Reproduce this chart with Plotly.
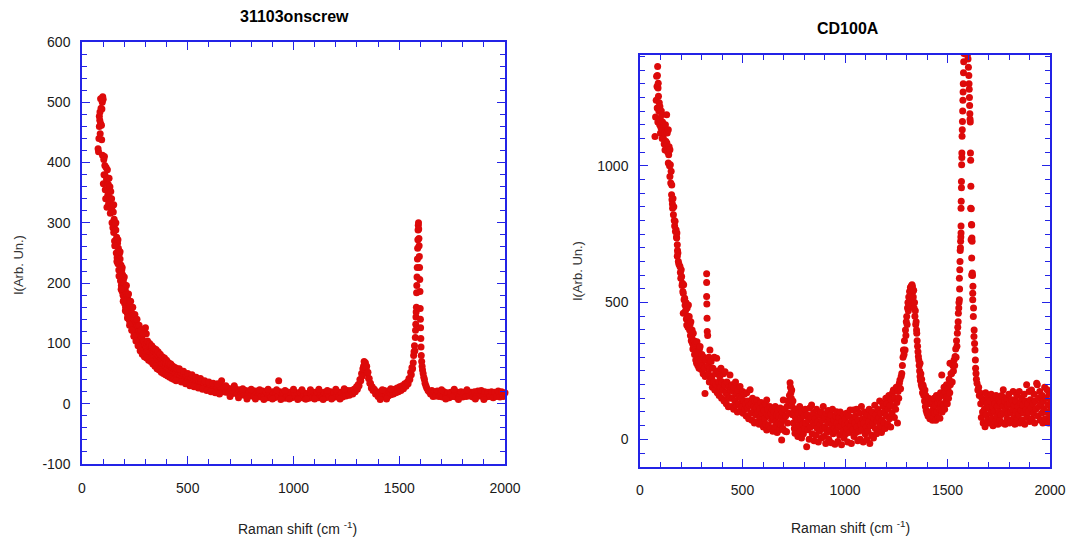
import plotly.graph_objects as go

# ---------------- Left panel: 31103onscrew ----------------
shift_a = [
    76, 78, 80, 82, 82, 84, 85, 86, 88, 88,
    90, 92, 93, 94, 96, 98, 100, 97, 101, 103,
    104, 106, 108, 109, 110, 112, 114, 116, 118, 120,
    122, 124, 126, 128, 130, 132, 134, 136, 138, 140,
    142, 144, 146, 148, 150, 152, 154, 156, 158, 160,
    162, 164, 166, 168, 170, 172, 174, 176, 178, 180,
    182, 184, 186, 188, 190, 192, 194, 196, 198, 200,
    202, 204, 206, 208, 210, 212, 214, 216, 218, 220,
    222, 224, 226, 228, 230, 232, 234, 236, 238, 240,
    242, 244, 246, 248, 250, 252, 254, 256, 258, 260,
    262, 264, 266, 268, 270, 272, 274, 276, 278, 280,
    282, 284, 286, 288, 290, 292, 294, 296, 298, 300,
    302, 304, 306, 308, 312, 316, 320, 324, 328, 332,
    336, 340, 344, 348, 352, 356, 360, 364, 368, 372,
    376, 380, 384, 388, 392, 396, 400, 405, 410, 415,
    420, 425, 430, 435, 440, 445, 450, 456, 462, 468,
    474, 480, 486, 492, 498, 504, 510, 516, 522, 528,
    534, 540, 546, 552, 558, 564, 570, 576, 582, 590,
    598, 606, 614, 622, 630, 638, 646, 654, 660, 664,
    672, 680, 688, 696, 704, 712, 720, 726, 734, 742,
    750, 758, 766, 774, 782, 790, 798, 806, 814, 822,
    830, 838, 846, 854, 862, 870, 878, 886, 894, 902,
    910, 918, 926, 930, 936, 944, 952, 960, 968, 976,
    984, 992, 1000, 1008, 1016, 1024, 1032, 1040, 1048, 1056,
    1064, 1072, 1080, 1088, 1096, 1104, 1112, 1120, 1128, 1136,
    1144, 1152, 1160, 1168, 1176, 1184, 1192, 1200, 1208, 1216,
    1224, 1232, 1240, 1248, 1256, 1264, 1272, 1280, 1286, 1292,
    1298, 1302, 1306, 1310, 1314, 1318, 1322, 1325, 1328, 1331,
    1334, 1337, 1340, 1343, 1346, 1349, 1352, 1355, 1358, 1361,
    1364, 1368, 1372, 1376, 1382, 1388, 1394, 1400, 1406, 1412,
    1418, 1424, 1430, 1436, 1442, 1448, 1454, 1460, 1466, 1472,
    1478, 1484, 1490, 1496, 1502, 1508, 1514, 1520, 1526, 1532,
    1538, 1542, 1546, 1550, 1554, 1557, 1560, 1563, 1566, 1568,
    1570, 1572, 1574, 1576, 1577, 1578, 1579, 1580, 1581, 1582,
    1583, 1584, 1585, 1586, 1587, 1588, 1589, 1590, 1591, 1592,
    1593, 1594, 1595, 1596, 1597, 1598, 1599, 1600, 1601, 1602,
    1603, 1604, 1606, 1608, 1610, 1613, 1616, 1619, 1622, 1626,
    1630, 1636, 1642, 1648, 1654, 1660, 1666, 1672, 1680, 1688,
    1696, 1704, 1712, 1720, 1728, 1736, 1744, 1752, 1760, 1768,
    1776, 1784, 1792, 1800, 1808, 1816, 1824, 1832, 1840, 1848,
    1856, 1864, 1872, 1880, 1888, 1896, 1904, 1912, 1920, 1928,
    1936, 1944, 1952, 1960, 1968, 1976, 1984, 1992, 2000, 2006,
    # scattered points at the band edges
    150, 160, 170, 180, 190, 200, 210, 220, 230, 240,
    155, 165, 175, 185, 195, 205, 215, 225, 235, 245,
    250, 260, 270, 280, 290, 310, 320, 330, 340, 350,
    255, 265, 275, 285, 295, 305, 315, 325, 335, 345,
    360, 370, 380, 390, 400, 410, 420, 430, 440, 450,
    355, 365, 375, 385, 395, 405, 415, 425, 435, 445,
    460, 480, 500, 520, 540, 560, 580, 600, 620, 640,
    470, 490, 510, 530, 550, 570, 590, 610, 630, 650,
    680, 720, 760, 800, 840, 880, 920, 960, 1000, 1040,
    700, 740, 780, 820, 860, 900, 940, 980, 1020, 1060,
    1080, 1120, 1160, 1200, 1240, 1420, 1460, 1700, 1760, 1820,
    1100, 1140, 1180, 1220, 1410, 1440, 1720, 1780, 1860, 1900,
]
inten_a = [
    423, 418, 440, 460, 477, 470, 484, 448, 506, 465,
    490, 462, 438, 489, 500, 509, 505, 412, 365, 405,
    380, 410, 395, 379, 355, 340, 392, 372, 326, 388,
    346, 364, 332, 374, 342, 360, 316, 352, 324, 340,
    300, 328, 292, 318, 284, 306, 270, 298, 262, 288,
    250, 276, 242, 266, 232, 258, 222, 248, 212, 240,
    204, 230, 196, 222, 186, 214, 180, 206, 172, 198,
    166, 190, 160, 184, 154, 178, 150, 174, 144, 170,
    140, 164, 136, 160, 132, 156, 130, 150, 126, 146,
    122, 142, 118, 138, 116, 134, 112, 130, 108, 128,
    106, 124, 102, 120, 100, 116, 98, 114, 94, 110,
    92, 108, 90, 104, 88, 102, 86, 124, 98, 126,
    92, 116, 86, 100, 84, 98, 80, 94, 78, 92,
    76, 88, 72, 86, 70, 82, 68, 80, 64, 76,
    62, 74, 60, 72, 58, 68, 56, 66, 54, 64,
    52, 60, 50, 58, 48, 56, 46, 54, 44, 52,
    42, 50, 40, 48, 38, 46, 36, 44, 34, 42,
    32, 40, 30, 38, 29, 36, 28, 34, 26, 33,
    25, 31, 23, 30, 22, 29, 21, 28, 38, 20,
    27, 19, 26, 18, 25, 17, 30, 24, 16, 23,
    15, 22, 14, 22, 13, 21, 13, 22, 12, 21,
    12, 20, 11, 21, 12, 20, 10, 19, 11, 20,
    10, 19, 12, 38, 20, 10, 19, 9, 20, 11,
    19, 10, 21, 11, 18, 9, 19, 10, 18, 8,
    17, 9, 18, 10, 19, 11, 20, 10, 18, 11,
    19, 10, 18, 11, 20, 10, 18, 11, 20, 12,
    19, 11, 21, 13, 22, 14, 22, 16, 24, 20,
    28, 24, 32, 30, 40, 38, 50, 46, 58, 62,
    70, 66, 68, 60, 62, 50, 52, 42, 42, 34,
    34, 26, 28, 22, 24, 16, 20, 12, 18, 10,
    16, 12, 22, 14, 20, 13, 22, 15, 23, 16,
    24, 18, 26, 20, 28, 22, 30, 25, 33, 29,
    36, 33, 42, 40, 52, 48, 60, 58, 68, 80,
    86, 96, 88, 110, 122, 132, 144, 152, 160, 184,
    196, 210, 226, 240, 258, 272, 288, 296, 300, 290,
    274, 262, 244, 226, 206, 186, 158, 140, 126, 108,
    94, 80, 70, 62, 56, 50, 44, 40, 34, 30,
    26, 22, 20, 16, 22, 12, 20, 13, 21, 12,
    19, 11, 20, 12, 18, 10, 19, 12, 22, 11,
    19, 12, 20, 11, 19, 12, 20, 13, 19, 11,
    20, 12, 21, 13, 22, 12, 20, 11, 19, 12,
    20, 10, 19, 12, 21, 11, 20, 12, 18, 13,
    # scattered points at the band edges
    330, 300, 272, 252, 226, 210, 196, 182, 170, 160,
    262, 236, 212, 190, 170, 154, 142, 130, 122, 112,
    148, 140, 130, 122, 116, 104, 100, 96, 92, 90,
    104, 96, 88, 82, 78, 76, 72, 70, 66, 62,
    86, 82, 78, 76, 72, 68, 66, 62, 60, 58,
    58, 56, 52, 50, 48, 46, 44, 42, 40, 38,
    58, 54, 50, 48, 44, 42, 38, 36, 34, 33,
    36, 33, 30, 28, 26, 24, 22, 20, 18, 16,
    30, 27, 25, 24, 23, 24, 23, 22, 24, 23,
    12, 10, 8, 8, 7, 8, 7, 8, 7, 8,
    23, 24, 22, 24, 25, 23, 25, 23, 24, 23,
    8, 7, 8, 8, 7, 8, 8, 7, 8, 7,
]

# ---------------- Right panel: CD100A ----------------
shift_b = [
    73, 76, 79, 81, 83, 84, 85, 86, 87, 88,
    89, 90, 92, 94, 96, 97, 99, 100, 102, 104,
    106, 108, 110, 112, 114, 116, 118, 120, 122, 124,
    126, 128, 130, 131, 133, 135, 138, 138, 140, 142,
    144, 146, 146, 148, 150, 152, 154, 155, 156, 158,
    159, 161, 163, 165, 167, 169, 171, 173, 176, 178,
    179, 180, 182, 183, 185, 182, 187, 190, 195, 197,
    199, 201, 203, 205, 207, 209, 211, 213, 215, 218,
    211, 220, 222, 224, 226, 228, 230, 232, 234, 236,
    238, 240, 242, 244, 246, 248, 250, 252, 254, 256,
    258, 260, 262, 264, 266, 268, 270, 272, 274, 276,
    278, 280, 282, 284, 286, 288, 290, 293, 296, 299,
    302, 305, 308, 311, 314, 317, 318, 320, 325, 325,
    325, 326, 327, 328, 330, 332, 334, 336, 338, 341,
    341, 344, 347, 350, 353, 356, 359, 362, 365, 368,
    371, 374, 377, 380, 383, 386, 389, 392, 395, 398,
    401, 404, 407, 410, 413, 415, 418, 421, 424, 427,
    431, 434, 437, 439, 442, 445, 448, 451, 454, 457,
    460, 463, 466, 469, 472, 475, 478, 481, 484, 488,
    491, 494, 497, 500, 503, 506, 509, 512, 515, 518,
    521, 524, 527, 530, 533, 537, 540, 543, 546, 549,
    552, 555, 558, 561, 564, 567, 569, 572, 575, 578,
    581, 584, 587, 590, 593, 596, 599, 602, 605, 608,
    611, 614, 618, 618, 621, 624, 627, 630, 633, 636,
    639, 642, 645, 648, 651, 654, 657, 660, 663, 666,
    669, 672, 675, 678, 681, 684, 687, 691, 691, 694,
    697, 699, 702, 705, 708, 711, 715, 717, 720, 723,
    726, 729, 732, 734, 736, 738, 740, 742, 744, 746,
    748, 750, 753, 756, 758, 761, 764, 767, 770, 773,
    776, 779, 782, 785, 788, 791, 794, 797, 800, 803,
    806, 809, 813, 816, 819, 822, 825, 828, 831, 834,
    837, 840, 843, 846, 849, 852, 855, 858, 861, 864,
    867, 870, 873, 876, 879, 882, 885, 888, 891, 894,
    897, 900, 903, 906, 909, 912, 915, 918, 921, 924,
    927, 930, 933, 936, 939, 942, 945, 948, 951, 954,
    957, 959, 962, 965, 968, 971, 974, 977, 980, 983,
    986, 989, 992, 995, 998, 1001, 1004, 1007, 1010, 1013,
    1016, 1019, 1022, 1025, 1028, 1031, 1034, 1037, 1041, 1044,
    1047, 1050, 1053, 1056, 1059, 1062, 1065, 1068, 1071, 1074,
    1077, 1080, 1083, 1086, 1089, 1092, 1095, 1098, 1101, 1104,
    1106, 1109, 1112, 1115, 1118, 1121, 1124, 1127, 1130, 1133,
    1136, 1139, 1142, 1145, 1148, 1151, 1154, 1157, 1160, 1163,
    1166, 1169, 1172, 1175, 1178, 1181, 1184, 1187, 1190, 1193,
    1196, 1199, 1202, 1205, 1208, 1211, 1214, 1217, 1220, 1223,
    1226, 1229, 1232, 1236, 1238, 1241, 1244, 1247, 1250, 1253,
    1256, 1259, 1262, 1265, 1268, 1271, 1274, 1277, 1280, 1283,
    1285, 1288, 1290, 1293, 1295, 1297, 1299, 1301, 1303, 1305,
    1307, 1309, 1311, 1313, 1315, 1317, 1319, 1321, 1323, 1325,
    1327, 1329, 1331, 1333, 1335, 1337, 1339, 1341, 1343, 1345,
    1347, 1349, 1350, 1352, 1354, 1356, 1358, 1360, 1362, 1364,
    1366, 1366, 1368, 1370, 1372, 1374, 1376, 1378, 1380, 1382,
    1384, 1386, 1388, 1390, 1392, 1394, 1396, 1398, 1400, 1402,
    1405, 1408, 1411, 1414, 1415, 1418, 1421, 1424, 1427, 1430,
    1431, 1434, 1437, 1440, 1443, 1446, 1449, 1452, 1455, 1458,
    1461, 1463, 1466, 1468, 1472, 1474, 1477, 1480, 1483, 1486,
    1489, 1492, 1495, 1496, 1499, 1502, 1505, 1508, 1511, 1512,
    1514, 1517, 1520, 1523, 1526, 1529, 1532, 1535, 1537, 1540,
    1542, 1544, 1546, 1548, 1550, 1552, 1553, 1555, 1556, 1558,
    1558, 1559, 1560, 1561, 1562, 1563, 1564, 1565, 1566, 1566,
    1566, 1567, 1568, 1568, 1569, 1570, 1570, 1571, 1572, 1573,
    1574, 1575, 1576, 1577, 1578, 1579, 1580, 1583, 1586, 1590,
    1594, 1597, 1600, 1602, 1604, 1605, 1606, 1607, 1608, 1609,
    1610, 1611, 1612, 1613, 1613, 1614, 1615, 1616, 1617, 1618,
    1618, 1618, 1619, 1620, 1621, 1622, 1623, 1623, 1624, 1626,
    1627, 1629, 1630, 1632, 1634, 1636, 1637, 1639, 1641, 1644,
    1648, 1652, 1655, 1659, 1662, 1665, 1668, 1671, 1674, 1677,
    1680, 1683, 1686, 1689, 1692, 1695, 1698, 1701, 1704, 1707,
    1710, 1713, 1716, 1719, 1722, 1725, 1728, 1731, 1734, 1737,
    1740, 1743, 1746, 1749, 1752, 1755, 1758, 1761, 1764, 1767,
    1770, 1772, 1775, 1778, 1781, 1784, 1787, 1790, 1793, 1796,
    1799, 1802, 1805, 1808, 1811, 1814, 1817, 1820, 1823, 1826,
    1829, 1832, 1835, 1838, 1841, 1844, 1847, 1850, 1853, 1856,
    1859, 1862, 1865, 1868, 1871, 1874, 1877, 1880, 1883, 1886,
    1889, 1892, 1895, 1898, 1901, 1904, 1907, 1910, 1913, 1916,
    1919, 1922, 1925, 1928, 1931, 1935, 1938, 1941, 1944, 1947,
    1950, 1953, 1956, 1959, 1962, 1965, 1968, 1971, 1974, 1977,
    1980, 1983, 1986, 1989, 1992, 1995, 1998, 2000, 2003, 2006,
]
inten_b = [
    1107, 1178, 1240, 1327, 1290, 1211, 1330, 1363, 1160, 1284,
    1302, 1254, 1200, 1230, 1150, 1217, 1170, 1120, 1140, 1200,
    1187, 1100, 1160, 1130, 1101, 1150, 1080, 1120, 1058, 1150,
    1090, 1070, 1187, 1083, 1120, 1050, 1132, 1010, 1040, 1070,
    1000, 1059, 961, 1004, 937, 980, 894, 930, 876, 860,
    845, 880, 821, 850, 800, 780, 797, 760, 766, 740,
    736, 754, 711, 690, 681, 669, 650, 640, 632, 610,
    589, 620, 595, 562, 571, 540, 534, 565, 510, 516,
    461, 490, 470, 500, 440, 418, 480, 450, 410, 491,
    430, 449, 400, 420, 380, 430, 360, 376, 400, 350,
    330, 388, 340, 360, 310, 327, 350, 290, 320, 278,
    357, 300, 270, 320, 290, 260, 330, 339, 285, 255,
    310, 270, 240, 300, 260, 168, 230, 290, 605, 573,
    522, 495, 443, 394, 380, 270, 240, 300, 210, 327,
    260, 230, 285, 223, 190, 260, 210, 300, 180, 240,
    200, 296, 170, 250, 210, 160, 230, 190, 260, 150,
    210, 180, 240, 140, 200, 247, 170, 130, 210, 160,
    119, 190, 150, 235, 180, 120, 200, 150, 175, 110,
    190, 140, 210, 125, 165, 100, 180, 130, 155, 193,
    105, 150, 120, 175, 95, 140, 165, 110, 130, 85,
    170, 115, 140, 75, 125, 181, 95, 130, 70, 150,
    100, 120, 60, 140, 90, 115, 144, 65, 100, 125,
    55, 110, 80, 135, 60, 95, 120, 45, 105, 75,
    130, 55, 144, 34, 90, 110, 50, 85, 120, 40,
    95, 70, 110, 30, 80, 100, 45, 120, 65, 90,
    25, 105, 60, 85, 35, 115, 55, -2, 80, 100,
    40, 144, 70, 110, 30, 85, 28, 120, 60, 140,
    95, 160, 207, 190, 170, 150, 180, 120, 90, 140,
    60, 100, 40, 22, 80, 110, 45, 70, 10, 95,
    50, 120, 30, 75, 5, 100, 55, 20, 85, 40,
    110, 60, -27, 90, 35, 70, 0, 115, 45, 80,
    126, 20, 60, 95, -5, 50, 75, 15, 110, 40,
    65, -10, 90, 30, 55, 100, 5, 70, 40, 120,
    10, 80, 45, -15, 95, 25, 60, 105, 0, 75,
    35, 90, -12, 55, 110, 20, 70, 40, -18, 85,
    30, 101, 60, -8, 45, 80, 15, 100, 50, -20,
    65, 30, 90, 5, 55, 75, 20, 95, 40, -10,
    60, 85, 25, 107, 50, -15, 70, 35, 107, 10,
    60, 85, 25, 110, 45, -5, 70, 30, 95, 0,
    55, 120, 35, 75, -10, 60, 100, 20, 80, 45,
    -1, 90, 30, 65, 110, -15, 50, 85, 15, 100,
    60, 5, 75, 125, 40, 90, 20, 65, 110, 35,
    80, 140, 50, 95, 25, 70, 130, 120, 60, 100,
    40, 150, 85, 130, 55, 110, 160, 75, 125, 45,
    145, 95, 170, 180, 120, 80, 150, 110, 190, 135,
    60, 175, 150, 205, 217, 185, 230, 241, 270, 300,
    327, 310, 360, 327, 400, 380, 430, 449, 420, 480,
    500, 470, 520, 490, 540, 510, 555, 530, 560, 545,
    565, 558, 540, 520, 545, 480, 500, 450, 470, 420,
    430, 400, 388, 360, 340, 320, 303, 290, 270, 250,
    230, 278, 215, 240, 200, 220, 190, 170, 200, 193,
    160, 175, 140, 180, 120, 160, 105, 144, 95, 130,
    85, 150, 100, 75, 83, 130, 90, 140, 70, 110,
    83, 150, 95, 125, 70, 160, 100, 135, 80, 150,
    110, 77, 170, 130, 235, 100, 160, 125, 190, 110,
    170, 140, 200, 156, 130, 185, 150, 220, 170, 278,
    200, 240, 241, 210, 270, 250, 290, 270, 303, 330,
    300, 360, 340, 388, 410, 430, 461, 480, 500, 510,
    589, 550, 620, 650, 690, 700, 724, 740, 754, 780,
    845, 870, 920, 943, 1004, 1030, 1047, 1108, 1132, 1162,
    1200, 1240, 1270, 1300, 1340, 1380, 1410, 1420, 1420, 1415,
    1420, 1405, 1390, 1360, 1330, 1300, 1280, 1250, 1220, 1190,
    1170, 1160, 1047, 1020, 845, 925, 730, 843, 785, 784,
    663, 601, 736, 724, 608, 599, 534, 510, 560, 449,
    480, 376, 400, 350, 327, 290, 260, 241, 220, 205,
    180, 190, 160, 169, 130, 80, 150, 100, 60, 140,
    110, 46, 170, 90, 130, 70, 155, 115, 60, 140,
    95, 165, 75, 120, 50, 150, 100, 130, 65, 160,
    85, 120, 55, 145, 100, 70, 135, 90, 160, 60,
    120, 181, 95, 140, 55, 110, 150, 75, 125, 95,
    165, 60, 130, 100, 70, 145, 110, 175, 80, 125,
    55, 140, 100, 160, 75, 120, 90, 175, 60, 135,
    105, 150, 70, 125, 95, 165, 55, 140, 110, 200,
    80, 130, 100, 175, 65, 145, 115, 180, 75, 130,
    95, 165, 60, 140, 110, 205, 200, 85, 150, 120,
    175, 70, 130, 95, 160, 60, 140, 110, 190, 75,
    150, 100, 181, 125, 60, 165, 90, 71, 140, 110,
]

assert len(shift_a) == len(inten_a), (len(shift_a), len(inten_a))
assert len(shift_b) == len(inten_b), (len(shift_b), len(inten_b))

# tick values / labels (hyphen-minus as in the original)
y_ticks_a = [-100, 0, 100, 200, 300, 400, 500, 600]
y_labels_a = ["-100", "0", "100", "200", "300", "400", "500", "600"]

titles = ["31103onscrew", "CD100A"]
y_title = "I(Arb. Un.)"
x_title = "Raman shift (cm <sup>-1</sup>)"

W, H = 1074, 545
BLUE = "#2323e6"
RED = "#dd0a0a"
FONT = "Liberation Sans, Arial, sans-serif"


def fx(p):
    return p / W


def fy(p):
    return 1 - p / H


fig = go.Figure()
fig.add_trace(go.Scatter(x=shift_a, y=inten_a, mode="markers",
                         marker=dict(size=7, color=RED, line=dict(width=0)),
                         xaxis="x", yaxis="y", cliponaxis=False, hoverinfo="skip"))
fig.add_trace(go.Scatter(x=shift_b, y=inten_b, mode="markers",
                         marker=dict(size=7, color=RED, line=dict(width=0)),
                         xaxis="x2", yaxis="y2", cliponaxis=True, hoverinfo="skip"))


def ax(**kw):
    base = dict(showline=True, linecolor=BLUE, linewidth=1.5, mirror="ticks",
                ticks="inside", ticklen=8, tickwidth=1.3, tickcolor=BLUE,
                showgrid=False, zeroline=False, fixedrange=True, automargin=False,
                tickfont=dict(family=FONT, size=14, color="#1a1a1a"))
    base.update(kw)
    return base


fig.update_layout(
    width=W, height=H, margin=dict(l=0, r=0, t=0, b=0, pad=0, autoexpand=False),
    paper_bgcolor="white", plot_bgcolor="white", showlegend=False,
    xaxis=ax(domain=[fx(82), fx(505)], anchor="y", range=[0, 2000], dtick=500, tick0=0,
             ticklabelstandoff=10,
             minor=dict(ticks="inside", ticklen=5, tickwidth=1.3, tickcolor=BLUE, dtick=100, showgrid=False)),
    yaxis=ax(domain=[fy(464), fy(42)], anchor="x", range=[-100, 600],
             tickmode="array", tickvals=y_ticks_a, ticktext=y_labels_a,
             ticklabelstandoff=7,
             minor=dict(ticks="inside", ticklen=5, tickwidth=1.3, tickcolor=BLUE,
                        tickmode="linear", tick0=0, dtick=20, showgrid=False)),
    xaxis2=ax(domain=[fx(640), fx(1050)], anchor="y2", range=[0, 2000], dtick=500, tick0=0,
              ticklabelstandoff=10,
              minor=dict(ticks="inside", ticklen=5, tickwidth=1.3, tickcolor=BLUE, dtick=100, showgrid=False)),
    yaxis2=ax(domain=[fy(466.7), fy(55)], anchor="x2", range=[-100, 1405], dtick=500, tick0=0,
              ticklabelstandoff=7,
              minor=dict(ticks="inside", ticklen=5, tickwidth=1.3, tickcolor=BLUE, dtick=50, showgrid=False)),
)

ann = [
    dict(text="<b>%s</b>" % titles[0], x=fx(294), y=fy(16), font=dict(size=16)),
    dict(text="<b>%s</b>" % titles[1], x=fx(848), y=fy(29), font=dict(size=16)),
    dict(text=y_title, x=fx(18), y=fy(265), textangle=-90, font=dict(size=13, color="#333")),
    dict(text=y_title, x=fx(577), y=fy(271), textangle=-90, font=dict(size=13, color="#333")),
    dict(text=x_title, x=fx(297), y=fy(528), font=dict(size=14, color="#222")),
    dict(text=x_title, x=fx(850), y=fy(527), font=dict(size=14, color="#222")),
]
for a in ann:
    a.setdefault("font", {})
    a["font"].setdefault("color", "#000")
    a["font"]["family"] = FONT
    fig.add_annotation(xref="paper", yref="paper", xanchor="center", yanchor="middle",
                       showarrow=False, **a)

fig.write_html("out.html", config={"displayModeBar": False})
